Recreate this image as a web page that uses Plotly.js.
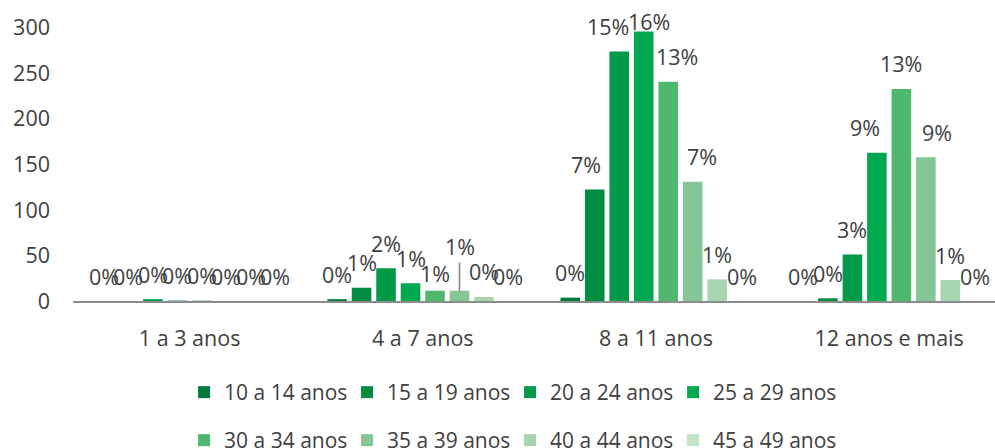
<!DOCTYPE html>
<html>
<head>
<meta charset="utf-8">
<script src="https://cdn.plot.ly/plotly-3.0.1.min.js"></script>
<style>html,body{margin:0;padding:0;background:#fff;}#chart{width:995px;height:448px;}</style>
</head>
<body>
<div id="chart"></div>
<script>
// ---- data ----
var categories = ['1 a 3 anos', '4 a 7 anos', '8 a 11 anos', '12 anos e mais'];
var seriesNames = ['10 a 14 anos', '15 a 19 anos', '20 a 24 anos', '25 a 29 anos',
                   '30 a 34 anos', '35 a 39 anos', '40 a 44 anos', '45 a 49 anos'];
var v10a14 = [0, 2, 3.7, 0];
var v15a19 = [0, 14.6, 122.5, 3];
var v20a24 = [2, 36, 274, 51];
var v25a29 = [0.5, 19.5, 296, 163];
var v30a34 = [0.5, 11.3, 241, 233];
var v35a39 = [0, 11.3, 131, 158];
var v40a44 = [0, 4.4, 23.8, 23];
var v45a49 = [0, 0, 0, 0];
var p10a14 = ['0%', '0%', '0%', '0%'];
var p15a19 = ['0%', '1%', '7%', '0%'];
var p20a24 = ['0%', '2%', '15%', '3%'];
var p25a29 = ['0%', '1%', '16%', '9%'];
var p30a34 = ['0%', '1%', '13%', '13%'];
var p35a39 = ['0%', '1%', '7%', '9%'];
var p40a44 = ['0%', '0%', '1%', '1%'];
var p45a49 = ['0%', '0%', '0%', '0%'];
var yTicks = [0, 50, 100, 150, 200, 250, 300];

var values = [v10a14, v15a19, v20a24, v25a29, v30a34, v35a39, v40a44, v45a49];
var pctLabels = [p10a14, p15a19, p20a24, p25a29, p30a34, p35a39, p40a44, p45a49];

// ---- styles ----
var colors = ['#007a3a', '#008c41', '#009a48', '#00a94f', '#4db86e', '#85c696', '#a7d5b0', '#c4e4ca'];
var FONT = 'Open Sans, Noto Sans, sans-serif';
var FS = 21.5;
var TXT = '#404040';
var BARGAP = 0.16;
var N = seriesNames.length;
// label placement tweaks (pixels): key "series,category"
var nudges = {
  '1,2': {dx: -8.5}, '2,2': {dx: -11}, '3,2': {dx: 5, dy: -15},
  '4,2': {dx: 8.5}, '5,2': {dx: 9.5},
  '3,3': {dx: -12}, '5,3': {dx: 11},
  '4,1': {dy: -8}, '5,1': {leader: 44}
};

var traces = values.map(function (vals, i) {
  return {
    type: 'bar',
    name: seriesNames[i],
    x: categories,
    y: vals,
    marker: {color: colors[i]},
    legend: i < 4 ? 'legend' : 'legend2',
    hoverinfo: 'x+y+name'
  };
});

var annotations = [];
var slot = (1 - BARGAP) / N;
values.forEach(function (vals, i) {
  vals.forEach(function (v, j) {
    var n = nudges[i + ',' + j] || {};
    var a = {
      x: j + (i - (N - 1) / 2) * slot,
      y: v,
      xref: 'x', yref: 'y',
      text: pctLabels[i][j],
      font: {family: FONT, size: FS, color: TXT},
      xanchor: 'center', yanchor: 'middle',
      showarrow: false,
      xshift: n.dx || 0,
      yshift: 25 + (n.dy || 0)
    };
    if (n.leader) {
      a.showarrow = true;
      a.arrowhead = 0;
      a.arrowwidth = 1.5;
      a.arrowcolor = '#7f7f7f';
      a.ax = 0;
      a.ay = -n.leader;
      a.standoff = 0;
      a.yshift = 0;
    }
    annotations.push(a);
  });
});

var legendBase = {
  orientation: 'h',
  xref: 'container', yref: 'container',
  xanchor: 'left', yanchor: 'middle',
  x: 0.185,
  font: {family: FONT, size: 21, color: TXT},
  entrywidth: 118,
  entrywidthmode: 'pixels',
  bgcolor: 'rgba(0,0,0,0)',
  traceorder: 'normal'
};

var layout = {
  width: 995,
  height: 448,
  margin: {l: 72.5, r: 0, t: 10, b: 146.5, autoexpand: false},
  paper_bgcolor: '#ffffff',
  plot_bgcolor: '#ffffff',
  font: {family: FONT, size: FS, color: TXT},
  barmode: 'group',
  bargap: BARGAP,
  bargroupgap: 0.2,
  showlegend: true,
  xaxis: {
    type: 'category',
    range: [-0.5, 3.454],
    showline: true,
    linecolor: '#8c8c8c',
    linewidth: 1.5,
    ticks: '',
    showgrid: false,
    zeroline: false,
    ticklabelstandoff: 18,
    tickfont: {family: FONT, size: FS, color: TXT},
    fixedrange: true
  },
  yaxis: {
    range: [0, 319.7],
    tickvals: yTicks,
    ticktext: yTicks.map(String),
    showgrid: false,
    zeroline: false,
    showline: false,
    ticks: '',
    ticklabelstandoff: 22,
    tickfont: {family: FONT, size: FS, color: TXT},
    fixedrange: true
  },
  legend: Object.assign({}, legendBase, {y: 1 - 392.5 / 448}),
  legend2: Object.assign({}, legendBase, {y: 1 - 440.5 / 448}),
  annotations: annotations
};

Plotly.newPlot('chart', traces, layout, {displayModeBar: false, staticPlot: true});
</script>
</body>
</html>
